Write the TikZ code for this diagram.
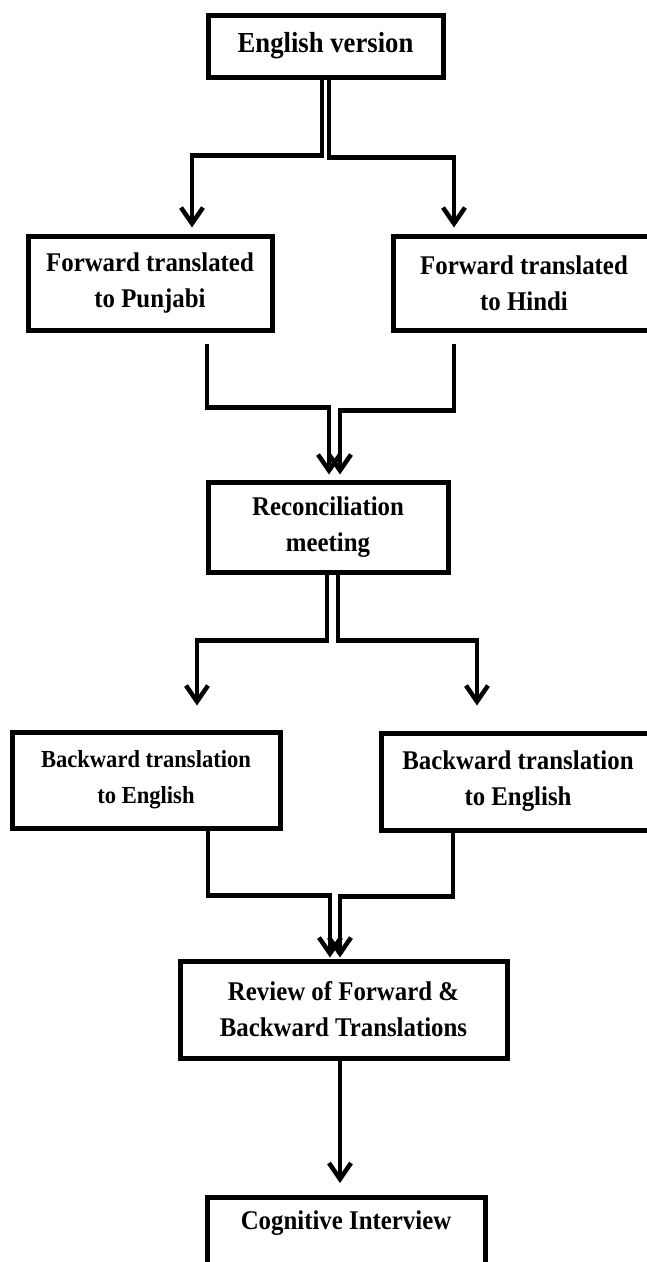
\documentclass[tikz,border=0pt]{standalone}
\usepackage{fontspec}
\setmainfont{Liberation Serif}[FakeStretch=0.92]
\usetikzlibrary{arrows.meta,calc}
\newcommand{\fsz}[1]{\bfseries\fontsize{#1}{36}\selectfont}
\begin{document}
\begin{tikzpicture}[x=1pt,y=1pt,
  box/.style={draw, line width=5pt, align=center, inner sep=0pt, font=\fsz{27}},
  txt/.style={inner sep=0pt, align=center, font=\fsz{27}},
  arr/.style={line width=4.5pt, line join=miter, -{Straight Barb[length=16pt,width=22pt,line width=4.5pt]}}]
\useasboundingbox (0,0) rectangle (647,-1262);
\node[box, minimum width=235pt, minimum height=62pt, font=\fsz{29}] (eng) at (325.5,-46) {English version};
\node[box, minimum width=244pt, minimum height=94pt] (pun) at (150,-283) {Forward translated\\to Punjabi};
\node[box, minimum width=262pt, minimum height=94pt] (hin) at (524,-283) {Forward translated\\to Hindi};
\node[box, minimum width=240pt, minimum height=90pt] (rec) at (328,-527) {Reconciliation\\meeting};
\node[box, minimum width=268pt, minimum height=96pt, font=\fsz{24.5}] (bl) at (146,-780) {Backward translation\\to English};
\node[box, minimum width=274pt, minimum height=97pt] (br) at (518,-781.5) {Backward translation\\to English};
\node[box, minimum width=327pt, minimum height=97pt] (rev) at (343.5,-1009.5) {Review of Forward \&\\Backward Translations};
\node[box, minimum width=278pt, minimum height=110pt, anchor=north] (cog) at (346,-1195) {};
\node[txt] (cogt) at (346,-1223) {Cognitive Interview};

\draw[arr] ([xshift=-3.5pt]eng.south) -- ++(0,-76) -| ([xshift=42pt,yshift=6pt]pun.north);
\draw[arr] ([xshift=3.5pt]eng.south) -- ++(0,-78) -| ([xshift=-70pt,yshift=6pt]hin.north);

\draw[arr] ([xshift=57pt,yshift=-11pt]pun.south) -- ++(0,-64) -| ([xshift=1pt,yshift=5pt]rec.north);
\draw[arr] ([xshift=-70pt,yshift=-11pt]hin.south) -- ++(0,-67) -| ([xshift=12pt,yshift=5pt]rec.north);

\draw[arr] ([xshift=-1pt]rec.south) -- ++(0,-66) -| ([xshift=51pt,yshift=24pt]bl.north);
\draw[arr] ([xshift=10pt]rec.south) -- ++(0,-66) -| ([xshift=-41pt,yshift=25pt]br.north);

\draw[arr] ([xshift=62pt]bl.south) -- ++(0,-65) -| ([xshift=-13.5pt,yshift=1pt]rev.north);
\draw[arr] ([xshift=-65pt]br.south) -- ++(0,-64) -| ([xshift=-3.5pt,yshift=1pt]rev.north);

\draw[arr] ([xshift=-3.5pt]rev.south) -- ([xshift=-6pt,yshift=12pt]cog.north);
\end{tikzpicture}
\end{document}
